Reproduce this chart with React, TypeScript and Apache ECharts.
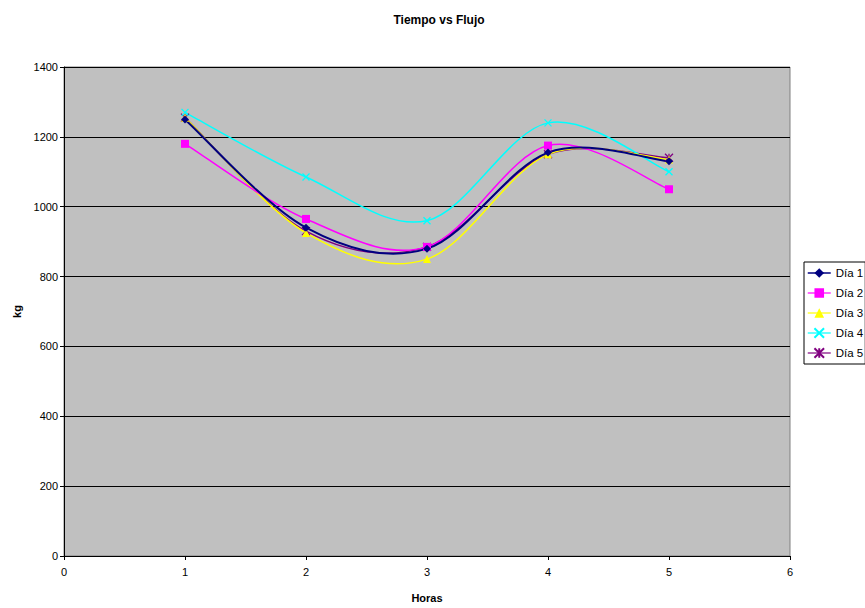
import React, { useEffect, useRef } from "react";
import * as echarts from "echarts";

const hours = [1, 2, 3, 4, 5];
const dia1 = [1250, 940, 880, 1155, 1130];
const dia2 = [1180, 965, 885, 1175, 1050];
const dia3 = [1255, 925, 850, 1150, 1135];
const dia4 = [1270, 1085, 960, 1240, 1100];
const dia5 = [1255, 930, 885, 1150, 1140];
const seriesNames = ["Día 1", "Día 2", "Día 3", "Día 4", "Día 5"];
const yTicks = [0, 200, 400, 600, 800, 1000, 1200, 1400];

const FONT = "Liberation Sans, Arial, sans-serif";

const X_PATH = "path://M0,0L10,10M10,0L0,10";
const STAR_PATH = "path://M0,0L10,10M10,0L0,10M5,0L5,10";

export default function App() {
  const ref = useRef<HTMLDivElement>(null);
  useEffect(() => {
    if (!ref.current) return;
    const chart = echarts.init(ref.current, null, { renderer: "svg" });
    const all = [dia1, dia2, dia3, dia4, dia5];
    const colors = ["#000080", "#FF00FF", "#FFFF00", "#00FFFF", "#800080"];
    const widths = [2, 1.5, 1.5, 1.5, 1.5];
    const symbols = ["diamond", "rect", "triangle", X_PATH, STAR_PATH];
    const sizes = [8, 8, 8, 7, 8];

    const curveSeries = all.map((vals, i) => ({
      name: "curve" + i,
      type: "custom",
      coordinateSystem: "cartesian2d",
      data: [[hours[0], vals[0]]],
      silent: true,
      z: 10 - i,
      renderItem: (_params: any, api: any) => {
        const pts = hours.map((h, j) => api.coord([h, vals[j]]));
        const n = pts.length;
        let d = `M${pts[0][0]},${pts[0][1]}`;
        for (let k = 0; k < n - 1; k++) {
          const p0 = pts[Math.max(k - 1, 0)];
          const p1 = pts[k];
          const p2 = pts[k + 1];
          const p3 = pts[Math.min(k + 2, n - 1)];
          const c1x = p1[0] + (p2[0] - p0[0]) / 6;
          const c1y = p1[1] + (p2[1] - p0[1]) / 6;
          const c2x = p2[0] - (p3[0] - p1[0]) / 6;
          const c2y = p2[1] - (p3[1] - p1[1]) / 6;
          d += ` C${c1x},${c1y} ${c2x},${c2y} ${p2[0]},${p2[1]}`;
        }
        return {
          type: "path",
          shape: { pathData: d },
          style: { stroke: colors[i], lineWidth: widths[i], fill: "none" },
        };
      },
    }));

    const markerSeries = all.map((vals, i) => {
      const stroked = i >= 3;
      return {
        name: seriesNames[i],
        type: "line",
        data: hours.map((h, j) => [h, vals[j]]),
        symbol: symbols[i],
        symbolSize: sizes[i],
        showSymbol: true,
        lineStyle: { color: colors[i], width: widths[i], opacity: 0 },
        itemStyle: stroked
          ? { color: colors[i], borderColor: colors[i], borderWidth: 1.3 }
          : { color: colors[i], borderWidth: 0 },
        z: 20 - i,
      };
    });

    chart.setOption({
      animation: false,
      backgroundColor: "#FFFFFF",
      title: {
        text: "Tiempo vs Flujo",
        left: 434,
        top: 9,
        textAlign: "center",
        textStyle: { fontFamily: FONT, fontSize: 12, fontWeight: "bold", color: "#000" },
      },
      legend: {
        orient: "vertical",
        left: 804,
        top: 262,
        padding: [5, 2, 5, 3],
        itemGap: 8,
        itemWidth: 23,
        itemHeight: 12,
        borderColor: "#000",
        borderWidth: 1,
        backgroundColor: "#FFFFFF",
        textStyle: { fontFamily: FONT, fontSize: 11.5, color: "#000" },
        data: seriesNames.map((name, i) => ({
          name,
          lineStyle: { color: colors[i], width: widths[i] === 2 ? 1.5 : 1.2, opacity: 1 },
        })),
      },
      grid: {
        left: 64,
        top: 67,
        right: 75,
        bottom: 50,
        show: true,
        backgroundColor: "#C0C0C0",
        borderColor: "#808080",
        borderWidth: 1,
        containLabel: false,
      },
      xAxis: {
        type: "value",
        min: 0,
        max: 6,
        interval: 1,
        name: "Horas",
        nameLocation: "middle",
        nameGap: 36,
        nameTextStyle: { fontFamily: FONT, fontSize: 11, fontWeight: "bold", color: "#000" },
        axisLine: { show: true, lineStyle: { color: "#000", width: 1 } },
        axisTick: { show: true, inside: false, length: 4, lineStyle: { color: "#000" } },
        axisLabel: { fontFamily: FONT, fontSize: 11, color: "#000", margin: 10 },
        splitLine: { show: false },
      },
      yAxis: {
        type: "value",
        min: yTicks[0],
        max: yTicks[yTicks.length - 1],
        interval: 200,
        name: "kg",
        nameLocation: "middle",
        nameGap: 40,
        nameRotate: 90,
        nameTextStyle: { fontFamily: FONT, fontSize: 11, fontWeight: "bold", color: "#000" },
        axisLine: { show: true, lineStyle: { color: "#000", width: 1 } },
        axisTick: { show: true, inside: false, length: 4, lineStyle: { color: "#000" } },
        axisLabel: {
          fontFamily: FONT,
          fontSize: 11,
          color: "#000",
          margin: 6,
          formatter: (v: number) => String(v),
        },
        splitLine: { show: true, lineStyle: { color: "#000", width: 1 } },
      },
      series: [...curveSeries, ...markerSeries],
    });
    return () => chart.dispose();
  }, []);
  return <div ref={ref} style={{ width: 865, height: 608, position: "absolute", left: 0, top: 0 }} />;
}
